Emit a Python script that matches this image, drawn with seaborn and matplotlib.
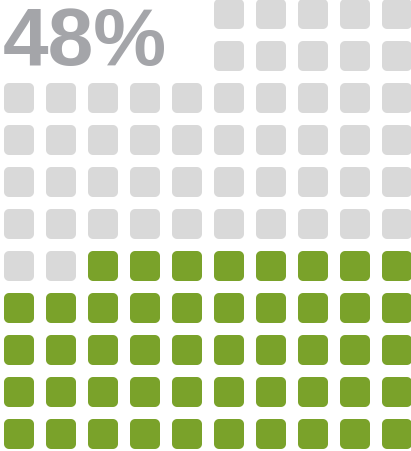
import numpy as np
import pandas as pd
import matplotlib
matplotlib.use("Agg")
import matplotlib.pyplot as plt
from matplotlib.path import Path
import seaborn as sns

# Waffle data
percent = 48
n_cols = 10
n_rows = 11
label_block_rows = 2      # top rows reserved on the left for the big label
label_block_cols = 5
colors = {"filled": "#7aa22a", "empty": "#d9d9d9"}
label_color = "#a4a5a9"

# Build the grid of cells (rows counted from the top), skipping the label block
cells = []
for r in range(n_rows):
    for c in range(n_cols):
        if r < label_block_rows and c < label_block_cols:
            continue
        cells.append((r, c))

# Fill order: bottom row first, right to left within each row
order = sorted(cells, key=lambda rc: (-rc[0], -rc[1]))
filled = set(order[:percent])
df = pd.DataFrame({
    "row": [rc[0] for rc in cells],
    "col": [rc[1] for rc in cells],
    "state": ["filled" if rc in filled else "empty" for rc in cells],
})

# Rounded-square marker
def rounded_square(radius=0.17, n=12):
    h = 0.5
    pts = []
    corners = [(h - radius, h - radius, 0), (-h + radius, h - radius, 90),
               (-h + radius, -h + radius, 180), (h - radius, -h + radius, 270)]
    for cx, cy, a0 in corners:
        for t in np.linspace(np.radians(a0), np.radians(a0 + 90), n):
            pts.append((cx + radius * np.cos(t), cy + radius * np.sin(t)))
    pts.append(pts[0])
    codes = [Path.MOVETO] + [Path.LINETO] * (len(pts) - 2) + [Path.CLOSEPOLY]
    return Path(pts, codes)

W, H, DPI = 411, 452, 100
pitch = 42.0            # pixels between cell centres
side = 30.0             # cell side in pixels
x0, y0 = 19.0, 15.0     # centre of the top-left cell in pixels

sns.set_theme(style="white")
fig = plt.figure(figsize=(W / DPI, H / DPI), dpi=DPI)
ax = fig.add_axes([0, 0, 1, 1])

sns.scatterplot(
    data=df, x="col", y="row", hue="state", palette=colors,
    marker=rounded_square(), s=(side * 72 / DPI) ** 2, linewidth=0,
    legend=False, ax=ax,
)

ax.set_xlim(-x0 / pitch, (W - x0) / pitch)
ax.set_ylim((H - y0) / pitch, -y0 / pitch)
ax.set_axis_off()

# Big percentage label in the reserved block
ax.text((3 - x0) / pitch, (65 - y0) / pitch, f"{percent}%",
        fontsize=59, fontweight="bold", color=label_color,
        family=["Liberation Sans", "DejaVu Sans"],
        ha="left", va="baseline")

fig.savefig("out.png", dpi=DPI)
